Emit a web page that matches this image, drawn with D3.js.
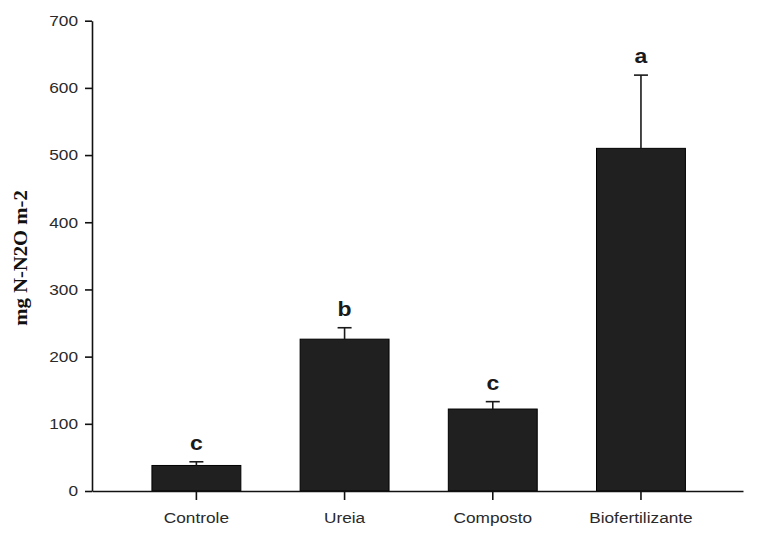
<!DOCTYPE html>
<html>
<head>
<meta charset="utf-8">
<script src="https://cdn.jsdelivr.net/npm/d3@7"></script>
<style>
  html, body { margin: 0; padding: 0; background: #fff; }
  svg { display: block; }
</style>
</head>
<body>
<svg id="chart" width="769" height="545"></svg>
<script>
const categories = ["Controle", "Ureia", "Composto", "Biofertilizante"];
const means = [38, 226, 122, 510];
const errors = [5.5, 17, 11, 109];
const letters = ["c", "b", "c", "a"];
const yTicks = [0, 100, 200, 300, 400, 500, 600, 700];
const yTitle = "mg N-N2O m-2";

(function () {
const svg = d3.select("#chart");
const mLeft = 92, mRight = 743, mTop = 20.7, mBottom = 491;
const sx = 1.15;

const x = d3.scaleBand().domain(categories).range([mLeft, mRight])
  .paddingInner(0.4).paddingOuter(0.3965).align(0.51);
const y = d3.scaleLinear().domain([0, 700]).range([mBottom, mTop]);

// bars
svg.append("g").selectAll("rect").data(categories).join("rect")
  .attr("x", d => x(d))
  .attr("y", (d, i) => y(means[i]))
  .attr("width", x.bandwidth())
  .attr("height", (d, i) => y(0) - y(means[i]))
  .attr("fill", "#202020")
  .attr("stroke", "#000")
  .attr("stroke-width", 1);

// error bars (upper only)
const eg = svg.append("g").attr("stroke", "#1a1a1a").attr("stroke-width", 1.6);
categories.forEach((c, i) => {
  const cx = x(c) + x.bandwidth() / 2;
  eg.append("line").attr("x1", cx).attr("x2", cx)
    .attr("y1", y(means[i])).attr("y2", y(means[i] + errors[i]));
  eg.append("line").attr("x1", cx - 7).attr("x2", cx + 7)
    .attr("y1", y(means[i] + errors[i])).attr("y2", y(means[i] + errors[i]));
});

// significance letters
svg.append("g").selectAll("text").data(categories).join("text")
  .attr("transform", (d, i) => `translate(${x(d) + x.bandwidth() / 2},${y(means[i] + errors[i]) - 12}) scale(${sx},1)`)
  .attr("text-anchor", "middle")
  .attr("font-family", "'Liberation Sans', Arial, sans-serif")
  .attr("font-weight", "bold")
  .attr("font-size", 20)
  .attr("fill", "#1a1a1a")
  .text((d, i) => letters[i]);

// y axis
const yAxis = svg.append("g").attr("transform", `translate(${mLeft},0)`)
  .call(d3.axisLeft(y).tickValues(yTicks).tickSize(7).tickPadding(9).tickSizeOuter(0));
yAxis.select(".domain").attr("stroke", "#111").attr("stroke-width", 1.6);
yAxis.selectAll(".tick line").attr("stroke", "#111").attr("stroke-width", 1.6);
yAxis.selectAll(".tick text")
  .attr("font-family", "'Liberation Sans', Arial, sans-serif")
  .attr("font-size", 15).attr("fill", "#2a2a2a")
  .attr("x", -14 / sx)
  .attr("transform", `scale(${sx},1)`);

// x axis
const xAxis = svg.append("g").attr("transform", `translate(0,${mBottom})`)
  .call(d3.axisBottom(x).tickSize(9).tickPadding(12).tickSizeOuter(0));
xAxis.select(".domain").attr("stroke", "#111").attr("stroke-width", 1.6);
xAxis.selectAll(".tick line").attr("stroke", "#111").attr("stroke-width", 1.6);
xAxis.selectAll(".tick text")
  .attr("font-family", "'Liberation Sans', Arial, sans-serif")
  .attr("font-size", 15).attr("fill", "#2a2a2a")
  .attr("transform", `scale(${sx},1)`);

// y title
svg.append("text")
  .attr("transform", `translate(27,258) rotate(-90) scale(${sx},1)`)
  .attr("text-anchor", "middle")
  .attr("font-family", "'Liberation Serif', 'Times New Roman', serif")
  .attr("font-weight", "bold")
  .attr("font-size", 18)
  .attr("fill", "#111")
  .text(yTitle);
})();
</script>
</body>
</html>
